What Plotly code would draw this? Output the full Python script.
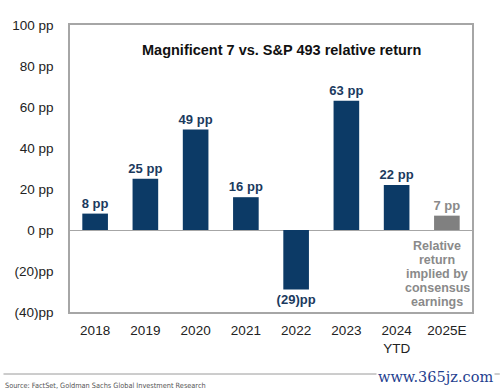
import plotly.graph_objects as go

categories = ["2018", "2019", "2020", "2021", "2022", "2023", "2024<br>YTD", "2025E"]
values = [8, 25, 49, 16, -29, 63, 22, 7]
bar_labels = ["8 pp", "25 pp", "49 pp", "16 pp", "(29)pp", "63 pp", "22 pp", "7 pp"]
bar_colors = ["#0c3a66"] * 7 + ["#808080"]
label_colors = ["#1b3a5e"] * 7 + ["#8a8a8a"]
y_tickvals = [100, 80, 60, 40, 20, 0, -20, -40]
y_ticktext = ["100 pp", "80 pp", "60 pp", "40 pp", "20 pp", "0 pp", "(20)pp", "(40)pp"]
note_lines = ["Relative", "return", "implied by", "consensus", "earnings"]

W, H = 500, 392
L, R, T, B = 67, 28, 25, 80
PW, PH = W - L - R, H - T - B


def py(page_y):
    return 1 - (page_y - T) / PH


def px(page_x):
    return (page_x - L) / PW


fig = go.Figure()
fig.add_trace(go.Bar(
    x=categories, y=values, marker=dict(color=bar_colors, line=dict(width=0)),
    width=0.51, text=bar_labels, textposition="outside", cliponaxis=False,
    constraintext="none",
    textfont=dict(family="Liberation Sans, Arial, sans-serif", size=13, color=label_colors, weight="bold"),
    hoverinfo="skip",
))

fig.update_layout(
    width=W, height=H,
    margin=dict(l=L, r=R, t=T, b=B),
    paper_bgcolor="white", plot_bgcolor="white",
    showlegend=False,
    font=dict(family="Liberation Sans, Arial, sans-serif", color="#222222"),
    xaxis=dict(
        showgrid=False, showline=True, linecolor="#a6a6a6", linewidth=1.5, mirror=True,
        ticks="", tickfont=dict(size=13.5, color="#222222"), ticklabelstandoff=5,
    ),
    yaxis=dict(
        range=[-40, 100], tickvals=y_tickvals, ticktext=y_ticktext,
        showgrid=False, showline=True, linecolor="#a6a6a6", linewidth=1.5, mirror=True,
        zeroline=True, zerolinecolor="#a6a6a6", zerolinewidth=1.2,
        ticks="", tickfont=dict(size=13.5, color="#222222"), ticklabelstandoff=12,
    ),
    bargap=0.49,
)

fig.add_annotation(
    text="<b>Magnificent 7 vs. S&P 493 relative return</b>",
    xref="paper", yref="paper", x=px(280), y=py(50), yanchor="middle", xanchor="center",
    showarrow=False, font=dict(size=14.5, color="#111111"),
)

for i, line in enumerate(note_lines):
    fig.add_annotation(
        text="<b>" + line + "</b>",
        xref="paper", yref="paper", x=px(437), y=py(246 + 14 * i), yanchor="middle", xanchor="center",
        showarrow=False, align="center", font=dict(size=12.5, color="#8a8a8a"),
    )

fig.add_shape(type="line", xref="paper", yref="paper",
              x0=px(0), x1=px(500), y0=py(374), y1=py(374),
              line=dict(color="#9a9a9a", width=1))

fig.add_annotation(
    text="Source: FactSet, Goldman Sachs Global Investment Research",
    xref="paper", yref="paper", x=px(0), y=py(385),
    xanchor="left", yanchor="middle", showarrow=False,
    font=dict(family="DejaVu Sans Condensed, Liberation Sans Narrow, Arial Narrow, sans-serif", size=7.3, color="#555555"),
)

fig.add_annotation(
    text="www.365jz.com",
    xref="paper", yref="paper", x=px(435), y=py(377),
    xanchor="center", yanchor="middle", showarrow=False, bgcolor="white",
    font=dict(family="DejaVu Serif, Liberation Serif, serif", size=14.5, color="#1f3f8f"),
)

fig.write_html("out.html", config={"displayModeBar": False},
               post_script="document.body.style.margin='0';document.body.style.overflow='hidden';")
